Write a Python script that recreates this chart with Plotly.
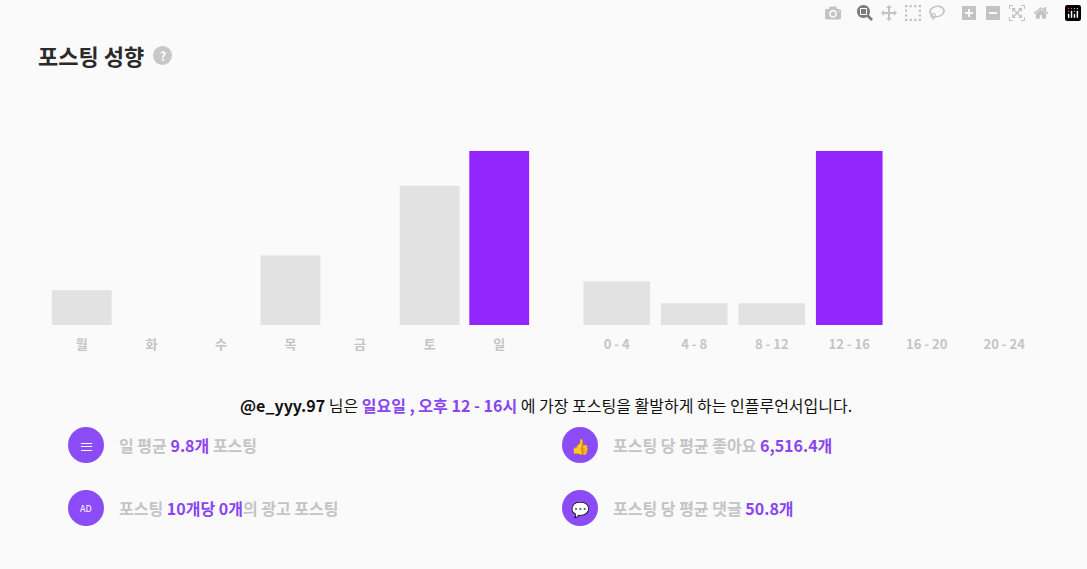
import plotly.graph_objects as go

W, H = 1087, 569

days = ["월", "화", "수", "목", "금", "토", "일"]
day_values = [2, 0, 0, 4, 0, 8, 10]
hours = ["0 - 4", "4 - 8", "8 - 12", "12 - 16", "16 - 20", "20 - 24"]
hour_values = [2, 1, 1, 8, 0, 0]

GREY = "#e2e2e2"
PURPLE = "#9326ff"
TXT_PURPLE = "#8a45f0"
LABEL = "#c4c4c4"
FONT = "Noto Sans CJK KR"


def px(x):
    return x / W


def py(y):
    return 1 - y / H


def colors(vals):
    m = max(vals)
    return [PURPLE if v == m else GREY for v in vals]


fig = go.Figure()
fig.add_trace(go.Bar(x=days, y=day_values, marker_color=colors(day_values),
                     marker_line_width=0, xaxis="x", yaxis="y", hoverinfo="skip"))
fig.add_trace(go.Bar(x=hours, y=hour_values, marker_color=colors(hour_values),
                     marker_line_width=0, xaxis="x2", yaxis="y2", hoverinfo="skip"))

ydom = [py(325), py(151)]
tick = dict(showgrid=False, zeroline=False, showline=False, ticks="",
            ticklabelstandoff=10,
            tickfont=dict(family=FONT, size=13, color=LABEL, weight="bold"))
fig.update_layout(
    width=W, height=H, margin=dict(l=0, r=0, t=0, b=0),
    paper_bgcolor="#fafafa", plot_bgcolor="#fafafa",
    showlegend=False, bargap=0.14,
    font=dict(family=FONT),
    xaxis=dict(domain=[px(47), px(534)], anchor="y", **tick),
    xaxis2=dict(domain=[px(578), px(1043)], anchor="y2", **tick),
    yaxis=dict(domain=ydom, range=[0, max(day_values)], visible=False),
    yaxis2=dict(domain=ydom, range=[0, max(hour_values)], visible=False),
)

ann = []


def text(x, y, s, size=14, color="#222", anchor="left"):
    ann.append(dict(x=px(x), y=py(y), xref="paper", yref="paper", text=s,
                    showarrow=False, xanchor=anchor, yanchor="middle",
                    font=dict(family=FONT, size=size, color=color)))


text(36, 55, "<b>포스팅 성향</b>", size=22, color="#2a2a2a")
fig.add_shape(type="circle", xref="paper", yref="paper",
              x0=px(153), x1=px(172), y0=py(65), y1=py(46),
              fillcolor="#c8c8c8", line_width=0)
text(162.5, 55.5, "<b>?</b>", size=12, color="white", anchor="center")

text(546, 405,
     "<b>@e_yyy.97</b> 님은 <b><span style='color:%s'>일요일 , 오후 12 - 16시</span></b> "
     "에 가장 포스팅을 활발하게 하는 인플루언서입니다." % TXT_PURPLE,
     size=16, color="#111", anchor="center")


def hl(s):
    return "<span style='color:%s'>%s</span>" % (TXT_PURPLE, s)


items = [
    (86, 445, "≡", "<b>일 평균 %s 포스팅</b>" % hl("9.8개")),
    (86, 508, "AD", "<b>포스팅 %s의 광고 포스팅</b>" % hl("10개당 0개")),
    (580, 445, "👍", "<b>포스팅 당 평균 좋아요 %s</b>" % hl("6,516.4개")),
    (580, 508, "💬", "<b>포스팅 당 평균 댓글 %s</b>" % hl("50.8개")),
]
for cx, cy, glyph, label in items:
    fig.add_shape(type="circle", xref="paper", yref="paper",
                  x0=px(cx - 18), x1=px(cx + 18), y0=py(cy + 18), y1=py(cy - 18),
                  fillcolor="#8c4cf5", line_width=0)
    text(cx, cy, glyph, size=9 if glyph == "AD" else 15, color="white", anchor="center")
    text(cx + 31, cy, label, size=16, color=LABEL)

fig.update_layout(annotations=ann)
fig.write_html("out.html", post_script=(
    "document.body.style.margin='0';"
    "document.body.style.background='#fafafa';"))
